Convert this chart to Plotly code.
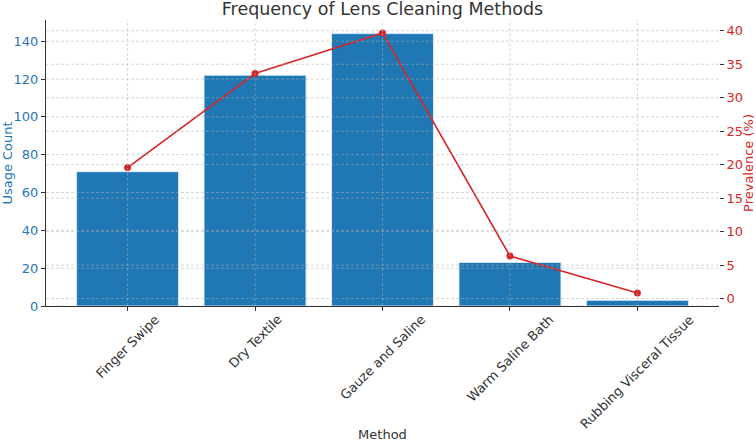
import plotly.graph_objects as go

methods = ["Finger Swipe", "Dry Textile", "Gauze and Saline", "Warm Saline Bath", "Rubbing Visceral Tissue"]
usage_count = [71, 122, 144, 23, 3]
total = sum(usage_count)
prevalence = [round(v / total * 100, 2) for v in usage_count]

left_ticks = [0, 20, 40, 60, 80, 100, 120, 140]
right_ticks = [0, 5, 10, 15, 20, 25, 30, 35, 40]

BLUE = "#1f77b4"
RED = "#d62728"
FONT = "DejaVu Sans"
GRID = "rgba(176,176,176,0.5)"

# matplotlib-like autoscaling
y1_range = [0, max(usage_count) * 1.05]
pmin, pmax = min(prevalence), max(prevalence)
pm = (pmax - pmin) * 0.05
y2_range = [pmin - pm, pmax + pm]
n = len(methods)
x_range = [-0.4 - 0.24, n - 1 + 0.4 + 0.24]

fig = go.Figure()
fig.add_trace(go.Bar(
    x=methods, y=usage_count, width=0.8,
    marker=dict(color=BLUE, line=dict(color="rgba(220,235,250,0.9)", width=1)),
    name="Usage Count", yaxis="y",
))
fig.add_trace(go.Scatter(
    x=methods, y=prevalence, mode="lines+markers",
    line=dict(color=RED, width=1.6),
    marker=dict(color=RED, size=7),
    name="Prevalence (%)", yaxis="y2",
))

# dashed grid drawn over the bars (as in the original)
gl = dict(color=GRID, width=1, dash="3px,2px")
for t in left_ticks:
    fig.add_shape(type="line", xref="paper", x0=0, x1=1, yref="y", y0=t, y1=t,
                  line=gl, layer="above")
for t in right_ticks:
    fig.add_shape(type="line", xref="paper", x0=0, x1=1, yref="y2", y0=t, y1=t,
                  line=gl, layer="above")
for m in methods:
    fig.add_shape(type="line", xref="x", x0=m, x1=m, yref="paper", y0=0, y1=1,
                  line=gl, layer="above")

fig.update_layout(
    width=756, height=442,
    margin=dict(l=46, r=37, t=20, b=136),
    paper_bgcolor="white", plot_bgcolor="white",
    showlegend=False,
    font=dict(family=FONT, size=13, color="#333333"),
    title=dict(text="Frequency of Lens Cleaning Methods", x=0.5, xref="paper",
               y=1 - 9 / 442, yref="container", yanchor="middle",
               font=dict(family=FONT, size=17.5, color="#333333")),
    xaxis=dict(range=x_range, showticklabels=False, ticks="outside", ticklen=4,
               tickcolor="#333333", showline=True, linecolor="#333333", linewidth=1.2,
               title=dict(text="Method", standoff=122, font=dict(size=13, color="#333333")),
               zeroline=False, automargin=False, showgrid=False),
    yaxis=dict(range=y1_range, tickvals=left_ticks, ticks="outside", ticklen=4,
               tickcolor="#333333", showline=True, linecolor="#333333", linewidth=1.2,
               tickfont=dict(color=BLUE, size=13),
               title=dict(text="Usage Count", standoff=4, font=dict(color=BLUE, size=13)),
               zeroline=False, automargin=False, showgrid=False),
    yaxis2=dict(range=y2_range, tickvals=right_ticks, overlaying="y", side="right",
                ticks="outside", ticklen=4, tickcolor="#333333", showline=False,
                tickfont=dict(color=RED, size=13),
                title=dict(text="Prevalence (%)", standoff=3, font=dict(color=RED, size=13)),
                zeroline=False, automargin=False, showgrid=False),
)

for m in methods:
    fig.add_annotation(x=m, y=0, xref="x", yref="paper", text=m, textangle=-45,
                       showarrow=False, xanchor="center", yanchor="top", yshift=-3,
                       font=dict(family=FONT, size=13, color="#333333"))

fig.write_html("out.html", config={"displayModeBar": False},
               post_script="document.body.style.margin='0';")
